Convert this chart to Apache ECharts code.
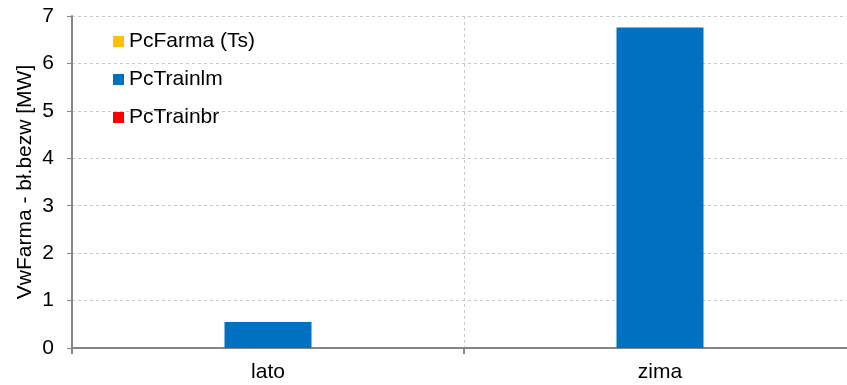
<!DOCTYPE html>
<html>
<head>
<meta charset="utf-8">
<script src="https://cdn.jsdelivr.net/npm/echarts@6/dist/echarts.min.js"></script>
<style>
  html, body { margin: 0; padding: 0; background: #fff; }
  #chart { width: 847px; height: 385px; }
</style>
</head>
<body>
<div id="chart"></div>
<script>
const categories = ['lato', 'zima']
const pcFarma = [0, 0]
const pcTrainlm = [0.55, 6.76]
const pcTrainbr = [0, 0]

const chart = echarts.init(document.getElementById('chart'))
const font = '"Liberation Sans", Arial, sans-serif'
const axisGray = '#868686'

chart.setOption({
  animation: false,
  textStyle: { fontFamily: font },
  grid: { left: 72, width: 784, top: 16, bottom: 37, outerBoundsMode: 'none' },
  legend: {
    orient: 'vertical',
    left: 108,
    top: 25,
    itemWidth: 11,
    itemHeight: 11,
    itemGap: 15,
    icon: 'rect',
    textStyle: { fontSize: 21, color: '#000', fontFamily: font, lineHeight: 23 },
    data: ['PcFarma (Ts)', 'PcTrainlm', 'PcTrainbr']
  },
  xAxis: {
    type: 'category',
    data: categories,
    axisLine: { lineStyle: { color: axisGray, width: 2 } },
    axisTick: { show: true, length: 6, lineStyle: { color: axisGray, width: 2 } },
    axisLabel: { fontSize: 21, color: '#000', margin: 14 },
    splitLine: { show: true, lineStyle: { color: '#c8c8c8', type: [3, 3], width: 1 } }
  },
  yAxis: {
    type: 'value',
    min: 0,
    max: 7,
    interval: 1,
    name: 'VwFarma - bł.bezw [MW]',
    nameLocation: 'middle',
    nameGap: 36,
    nameMoveOverlap: false,
    nameTextStyle: { fontSize: 21, color: '#000' },
    axisLine: { show: true, lineStyle: { color: axisGray, width: 2 } },
    axisTick: { show: true, length: 5, lineStyle: { color: axisGray, width: 1 } },
    axisLabel: { fontSize: 21, color: '#000', margin: 18 },
    splitLine: { show: true, lineStyle: { color: '#c8c8c8', type: [3, 3], width: 1 } }
  },
  series: [
    { name: 'PcFarma (Ts)', type: 'bar', data: pcFarma, itemStyle: { color: '#ffc000' }, barWidth: 87, barGap: '0%' },
    { name: 'PcTrainlm', type: 'bar', data: pcTrainlm, itemStyle: { color: '#0070c0' }, barWidth: 87, barGap: '0%' },
    { name: 'PcTrainbr', type: 'bar', data: pcTrainbr, itemStyle: { color: '#ff0000' }, barWidth: 87, barGap: '0%' }
  ]
})
</script>
</body>
</html>
